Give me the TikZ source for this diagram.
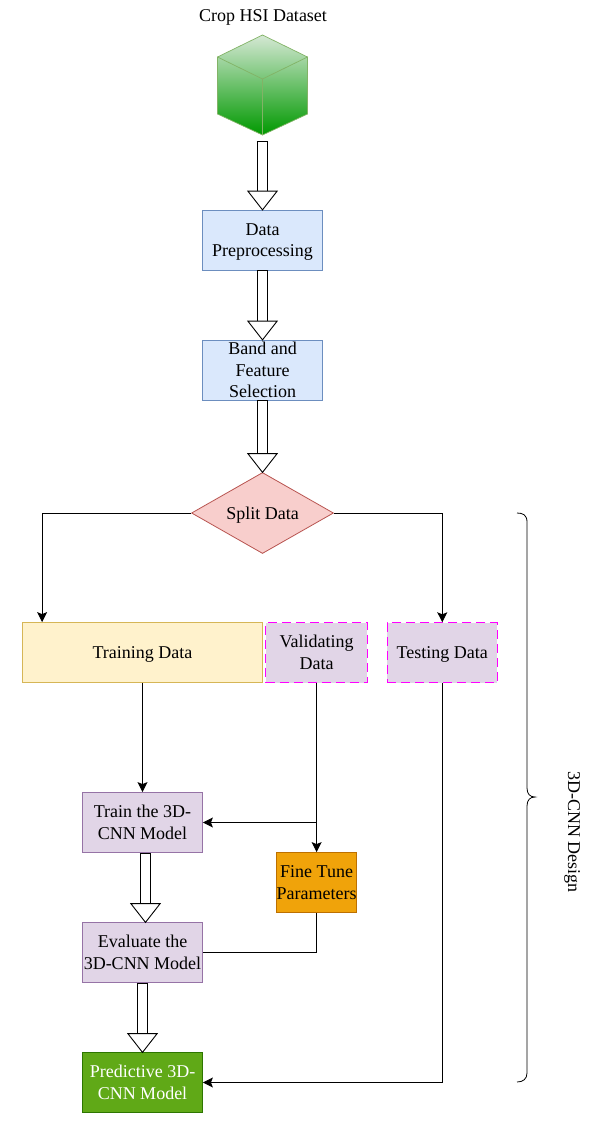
\documentclass[tikz,border=0pt]{standalone}
\usepackage{fontspec}
\setmainfont{Liberation Serif}
\usetikzlibrary{arrows.meta,shapes.geometric,calc}
\definecolor{bluefill}{HTML}{DAE8FC}
\definecolor{blueline}{HTML}{6C8EBF}
\definecolor{pinkfill}{HTML}{F8CECC}
\definecolor{pinkline}{HTML}{B85450}
\definecolor{yellowfill}{HTML}{FFF2CC}
\definecolor{yellowline}{HTML}{D6B656}
\definecolor{purplefill}{HTML}{E1D5E7}
\definecolor{purpleline}{HTML}{9673A6}
\definecolor{orangefill}{HTML}{F0A30A}
\definecolor{orangeline}{HTML}{BD7000}
\definecolor{greenfill}{HTML}{60A917}
\definecolor{greenline}{HTML}{2D7600}
\definecolor{cubetop}{HTML}{D5E8D4}
\definecolor{cubebottom}{HTML}{009900}
\definecolor{cubeline}{HTML}{82B366}
\definecolor{dashline}{HTML}{FF00FF}
\begin{document}
\begin{tikzpicture}[x=1pt,y=-1pt,
    every node/.style={font=\fontsize{18}{21.7}\selectfont,align=center,inner sep=0pt},
    oneline/.style={execute at begin node=\rule{0pt}{16pt},execute at end node=\rule[-4pt]{0pt}{4pt}},
    box/.style={draw,line width=0.8pt,minimum width=120pt,minimum height=60pt},
    bluebox/.style={box,fill=bluefill,draw=blueline},
    purplebox/.style={box,fill=purplefill,draw=purpleline},
    dashbox/.style={box,fill=purplefill,draw=dashline,line width=1pt,dash pattern=on 9pt off 5pt},
    line/.style={line width=0.9pt,-{Stealth[length=10pt,width=10pt,inset=2pt]}},
    plainline/.style={line width=0.9pt},
    bigarrow/.style={line width=0.9pt,double,double distance=9.5pt,shorten >=-1pt,
      {Bar[width=11.5pt,line width=0.9pt]}-{Triangle[fill=white,length=20pt,width=31pt,line width=0.9pt]}}]
    \useasboundingbox (0,0) rectangle (596,1125);
    % Dataset cube
    \node[oneline] (dataset) at (263,15) {Crop HSI Dataset};
    \shade[top color=cubetop,bottom color=cubebottom,draw=cubeline,line width=0.7pt]
      (262.5,35) -- (307.5,57) -- (307.5,114) -- (262.5,135) -- (217.5,114) -- (217.5,57) -- cycle;
    \draw[cubeline,line width=0.7pt] (217.5,57) -- (262.5,79) -- (307.5,57) (262.5,79) -- (262.5,135);
    \coordinate (cube) at (262.5,140.5);
    % Boxes
    \node[bluebox] (prep) at (262.5,240) {Data\\\smash{Preprocessing}};
    \node[bluebox] (band) at (262.5,370) {Band and\\Feature\\Selection};
    \node[diamond,oneline,shape aspect=1.75,draw=pinkline,fill=pinkfill,line width=0.8pt,minimum width=142pt,minimum height=81pt] (split) at (262.5,513) {Split Data};
    \node[box,oneline,fill=yellowfill,draw=yellowline,minimum width=240pt] (training) at (142.5,652.5) {Training Data};
    \node[dashbox,minimum width=101.5pt] (validating) at (316.6,652.5) {Validating\\Data};
    \node[dashbox,oneline,minimum width=110pt] (testing) at (442.3,652.8) {Testing Data};
    \node[purplebox] (train) at (142.5,822.5) {Train the 3D-\\CNN Model};
    \node[box,fill=orangefill,draw=orangeline,minimum width=80pt] (tune) at (316.6,882.5) {Fine Tune\\Parameters};
    \node[purplebox] (evaluate) at (142.5,952.5) {Evaluate the\\3D-CNN Model};
    \node[box,fill=greenfill,draw=greenline,text=white] (predictive) at (142.5,1082.5) {Predictive 3D-\\CNN Model};
    % Block arrows
    \draw[bigarrow] (cube) -- (prep.north);
    \draw[bigarrow] (prep.south) -- (band.north);
    \draw[bigarrow] (band.south) -- (split.north);
    \draw[bigarrow] ([xshift=3pt]train.south) -- ([xshift=3pt]evaluate.north);
    \draw[bigarrow] (evaluate.south) -- (predictive.north);
    % Thin connectors
    \draw[line] (split.west) -| ([xshift=20pt]training.north west);
    \draw[line] (split.east) -| (testing.north);
    \draw[line] (training.south) -- (train.north);
    \draw[line] (validating.south) -- (tune.north);
    \coordinate (branch) at (tune.north |- train.east);
    \draw[line] (branch) -- (train.east);
    \draw[plainline] (tune.south) |- (evaluate.east);
    \draw[line] (testing.south) |- (predictive.east);
    % Brace and its label
    \draw[line width=0.8pt] (517,513) .. controls (523,513) and (527,515) .. (527,522) -- (527,788)
      .. controls (527,794) and (530,797) .. (535,797) .. controls (530,797) and (527,800) .. (527,806)
      -- (527,1073) .. controls (527,1079) and (523,1082) .. (517,1082);
    \node[oneline,rotate=-90] (design) at (574,832) {3D-CNN Design};
\end{tikzpicture}
\end{document}
